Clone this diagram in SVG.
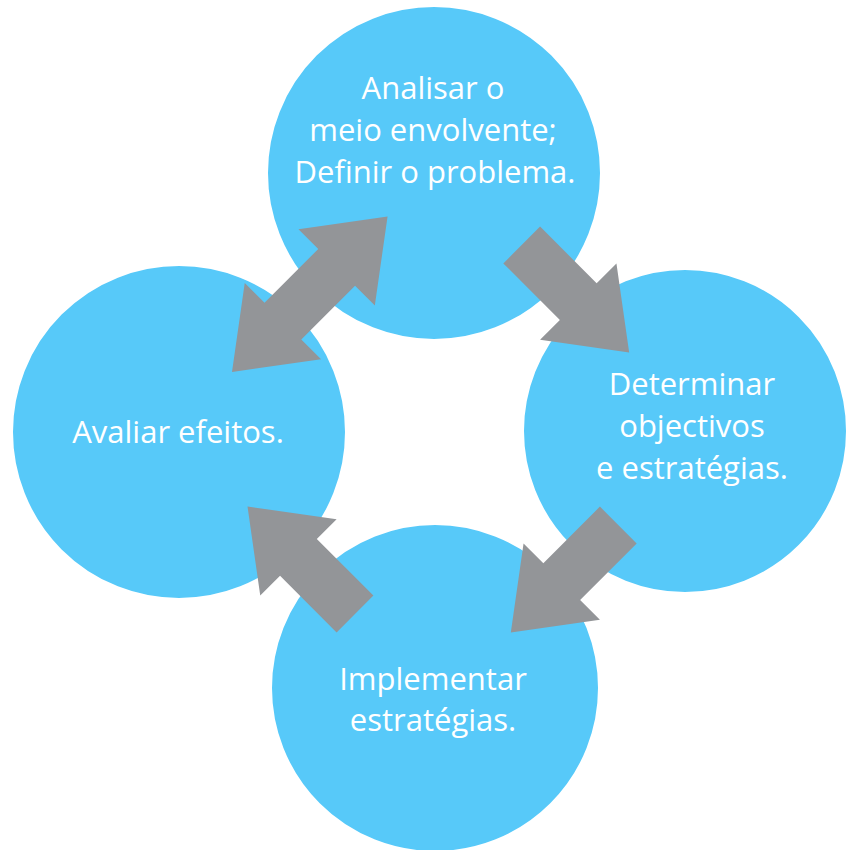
<svg xmlns="http://www.w3.org/2000/svg" width="846" height="850" viewBox="0 0 846 850">
  <style>
    .stage { fill: #57c9f9; stroke: #ffffff; stroke-width: 6; }
    .label { fill: #ffffff; font-family: "Open Sans", "Noto Sans", "DejaVu Sans", sans-serif; font-size: 31px; text-anchor: middle; }
    .arrow { fill: #939598; }
  </style>
  <defs>
    <!-- single-headed arrow pointing along +x, tail at origin -->
    <path id="arrow1" d="M0,-26 L80,-26 L80,-54 L152,0 L80,54 L80,26 L0,26 Z"/>
    <!-- double-headed arrow along +x, from one tip at origin to the other -->
    <path id="arrow2" d="M0,0 L72,-54 L72,-26 L148,-26 L148,-54 L220,0 L148,54 L148,26 L72,26 L72,54 Z"/>
  </defs>
  <rect width="846" height="850" fill="#ffffff"/>

  <g id="node-avaliar">
    <circle class="stage" cx="179" cy="432" r="169"/>
    <text class="label" x="178" y="443">Avaliar efeitos.</text>
  </g>
  <g id="node-analisar">
    <circle class="stage" cx="434" cy="173" r="169"/>
    <text class="label" x="433" y="99">Analisar o</text>
    <text class="label" x="433" y="141">meio envolvente;</text>
    <text class="label" x="435" y="183">Definir o problema.</text>
  </g>
  <g id="node-determinar">
    <circle class="stage" cx="685" cy="431" r="164"/>
    <text class="label" x="692" y="395">Determinar</text>
    <text class="label" x="692" y="437">objectivos</text>
    <text class="label" x="692" y="479">e estratégias.</text>
  </g>
  <g id="node-implementar">
    <circle class="stage" cx="435" cy="688" r="166"/>
    <text class="label" x="433" y="690">Implementar</text>
    <text class="label" x="433" y="731">estratégias.</text>
  </g>

  <g id="connectors" class="arrow">
    <use href="#arrow2" transform="translate(232,372) rotate(-45)"/>
    <use href="#arrow1" transform="translate(521.7,245) rotate(45)"/>
    <use href="#arrow1" transform="translate(618.3,525) rotate(135)"/>
    <use href="#arrow1" transform="translate(355,614) rotate(-135)"/>
  </g>
</svg>
